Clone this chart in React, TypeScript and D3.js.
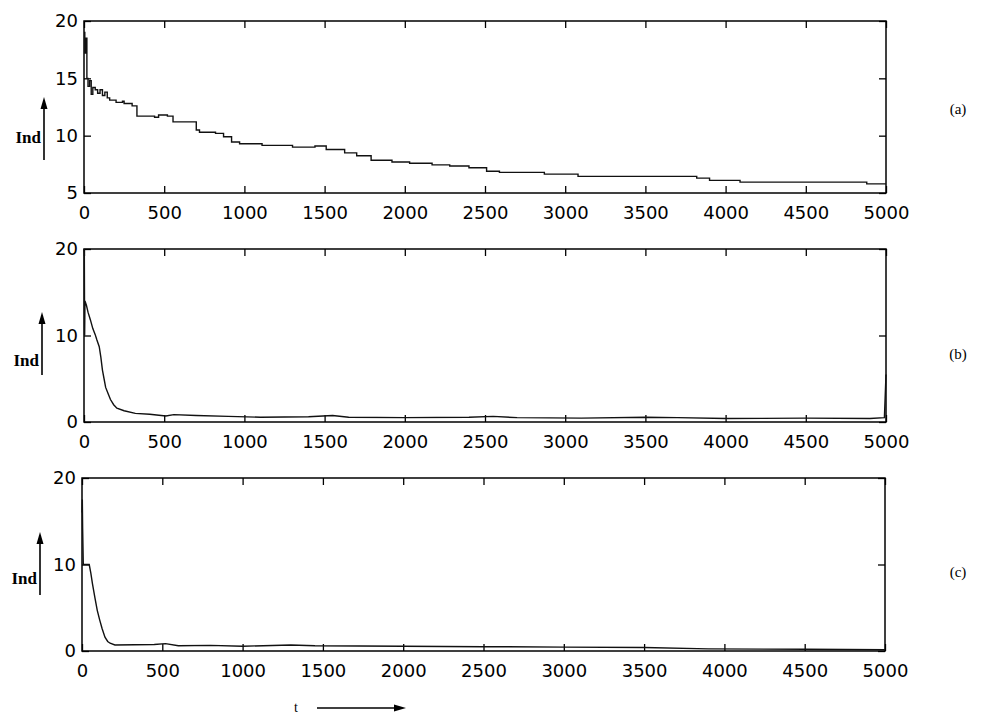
import React, { useRef, useEffect } from 'react';
import * as d3 from 'd3';

// time axis ticks shared by all three panels
const tTicks = [0, 500, 1000, 1500, 2000, 2500, 3000, 3500, 4000, 4500, 5000];

// panel (a)
const tA = [0, 5, 12, 18, 25, 35, 45, 55, 70, 85, 100, 115, 130, 145, 160, 200, 240, 250, 300, 330, 440, 465, 520, 555, 700, 720, 820, 870, 920, 970, 1110, 1300, 1440, 1510, 1625, 1700, 1790, 1920, 2030, 2170, 2280, 2400, 2510, 2590, 2870, 3080, 3820, 3900, 4090, 4880, 5000];
const indA = [19, 17.2, 18.5, 15, 14.3, 14.8, 13.6, 14.2, 14.0, 13.7, 14.0, 13.5, 13.8, 13.3, 13.1, 12.9, 13.0, 12.8, 12.6, 11.7, 11.6, 11.8, 11.7, 11.2, 10.5, 10.3, 10.2, 9.9, 9.45, 9.3, 9.15, 9.0, 9.1, 8.8, 8.5, 8.25, 7.85, 7.7, 7.6, 7.45, 7.35, 7.2, 6.9, 6.8, 6.65, 6.45, 6.3, 6.1, 5.95, 5.8, 5.8];
const yTicksA = [5, 10, 15, 20];

// panel (b)
const tB = [0, 2, 4, 6, 15, 25, 40, 55, 70, 80, 95, 105, 115, 125, 135, 150, 165, 185, 205, 250, 320, 410, 510, 560, 700, 900, 1100, 1400, 1550, 1650, 2000, 2400, 2550, 2700, 3100, 3500, 3700, 4000, 4500, 4900, 4990, 5000];
const indB = [20, 19.5, 10, 14, 13.5, 12.7, 11.8, 10.8, 10.1, 9.5, 8.7, 7.5, 6.0, 5.0, 4.0, 3.3, 2.6, 2.0, 1.6, 1.3, 1.0, 0.9, 0.7, 0.85, 0.75, 0.65, 0.55, 0.6, 0.75, 0.55, 0.5, 0.55, 0.65, 0.5, 0.45, 0.55, 0.5, 0.4, 0.45, 0.4, 0.5, 5.5];

// panel (c)
const tC = [0, 2, 4, 8, 45, 55, 65, 80, 95, 110, 125, 143, 160, 175, 205, 450, 520, 600, 800, 1000, 1300, 1450, 2000, 2500, 3000, 3500, 3900, 4500, 5000];
const indC = [16, 17.5, 14.2, 10, 10, 9, 7.8, 6.2, 4.7, 3.6, 2.6, 1.6, 1.1, 0.9, 0.7, 0.75, 0.85, 0.6, 0.65, 0.55, 0.7, 0.6, 0.55, 0.5, 0.45, 0.4, 0.25, 0.2, 0.15];
const yTicksBC = [0, 10, 20];

const panels = [
  { tag: '(a)', t: tA, v: indA, yDomain: [5, 20], yTicks: yTicksA, left: 84, right: 886, top: 21, bottom: 193, step: true, indY: 143, arrowTop: 97, arrowBottom: 160, ax: 44, tagY: 114 },
  { tag: '(b)', t: tB, v: indB, yDomain: [0, 20], yTicks: yTicksBC, left: 84, right: 886, top: 249, bottom: 422, step: false, indY: 366, arrowTop: 312, arrowBottom: 375, ax: 42, tagY: 359 },
  { tag: '(c)', t: tC, v: indC, yDomain: [0, 20], yTicks: yTicksBC, left: 82, right: 885, top: 478, bottom: 651, step: false, indY: 584, arrowTop: 532, arrowBottom: 595, ax: 40, tagY: 577 },
];

export default function App() {
  const svgRef = useRef<SVGSVGElement>(null);

  useEffect(() => {
    const svg = d3.select(svgRef.current);
    svg.selectAll('*').remove();

    panels.forEach((p) => {
      const x = d3.scaleLinear().domain([0, 5000]).range([p.left, p.right]);
      const y = d3.scaleLinear().domain(p.yDomain).range([p.bottom, p.top]);
      const g = svg.append('g');

      // bottom axis with labels, ticks pointing in
      const bx = g.append('g').attr('transform', `translate(0,${p.bottom})`)
        .call(d3.axisBottom(x).tickValues(tTicks).tickSize(-7).tickPadding(13).tickFormat(d3.format('d')));
      const tx = g.append('g').attr('transform', `translate(0,${p.top})`)
        .call(d3.axisTop(x).tickValues(tTicks).tickSize(-7).tickFormat(() => ''));
      const ly = g.append('g').attr('transform', `translate(${p.left},0)`)
        .call(d3.axisLeft(y).tickValues(p.yTicks).tickSize(-7).tickPadding(6).tickFormat(d3.format('d')));
      const ry = g.append('g').attr('transform', `translate(${p.right},0)`)
        .call(d3.axisRight(y).tickValues(p.yTicks).tickSize(-7).tickFormat(() => ''));

      [bx, tx, ly, ry].forEach((a) => {
        a.select('.domain').remove();
        a.selectAll('line').attr('stroke', '#000').attr('stroke-width', 1.3);
        a.selectAll('text')
          .attr('fill', '#000')
          .style('font-family', '"DejaVu Sans", sans-serif')
          .style('font-size', '18px');
      });

      g.append('rect')
        .attr('x', p.left).attr('y', p.top)
        .attr('width', p.right - p.left).attr('height', p.bottom - p.top)
        .attr('fill', 'none').attr('stroke', '#000').attr('stroke-width', 1.5);

      const pts = p.t.map((t, i) => [t, p.v[i]] as [number, number]);
      const ln = d3.line()
        .x((d) => x(d[0]))
        .y((d) => y(d[1]))
        .curve(p.step ? d3.curveStepAfter : d3.curveLinear);
      g.append('path')
        .attr('d', ln(pts))
        .attr('fill', 'none')
        .attr('stroke', '#111')
        .attr('stroke-width', 1.4);

      // "Ind" label with upward arrow
      g.append('text')
        .attr('x', p.ax - 3).attr('y', p.indY)
        .attr('text-anchor', 'end')
        .style('font-family', '"Liberation Serif", serif')
        .style('font-weight', 'bold')
        .style('font-size', '17px')
        .text('Ind');
      g.append('line')
        .attr('x1', p.ax).attr('x2', p.ax)
        .attr('y1', p.arrowBottom).attr('y2', p.arrowTop + 8)
        .attr('stroke', '#000').attr('stroke-width', 1.6);
      g.append('path')
        .attr('d', `M${p.ax},${p.arrowTop} l-3.5,12 l7,0 z`)
        .attr('fill', '#000');

      g.append('text')
        .attr('x', 958).attr('y', p.tagY)
        .attr('text-anchor', 'middle')
        .style('font-family', '"Liberation Serif", serif')
        .style('font-size', '15px')
        .text(p.tag);
    });

    // time label with arrow
    svg.append('text')
      .attr('x', 296).attr('y', 712)
      .attr('text-anchor', 'middle')
      .style('font-family', '"Liberation Serif", serif')
      .style('font-size', '14px')
      .text('t');
    svg.append('line')
      .attr('x1', 317).attr('x2', 398).attr('y1', 708).attr('y2', 708)
      .attr('stroke', '#000').attr('stroke-width', 1.4);
    svg.append('path')
      .attr('d', 'M406,708 l-12,-3.5 l0,7 z')
      .attr('fill', '#000');
  }, []);

  return (
    <svg
      ref={svgRef}
      width={984}
      height={717}
      style={{ position: 'absolute', left: 0, top: 0, background: '#fff' }}
    />
  );
}
